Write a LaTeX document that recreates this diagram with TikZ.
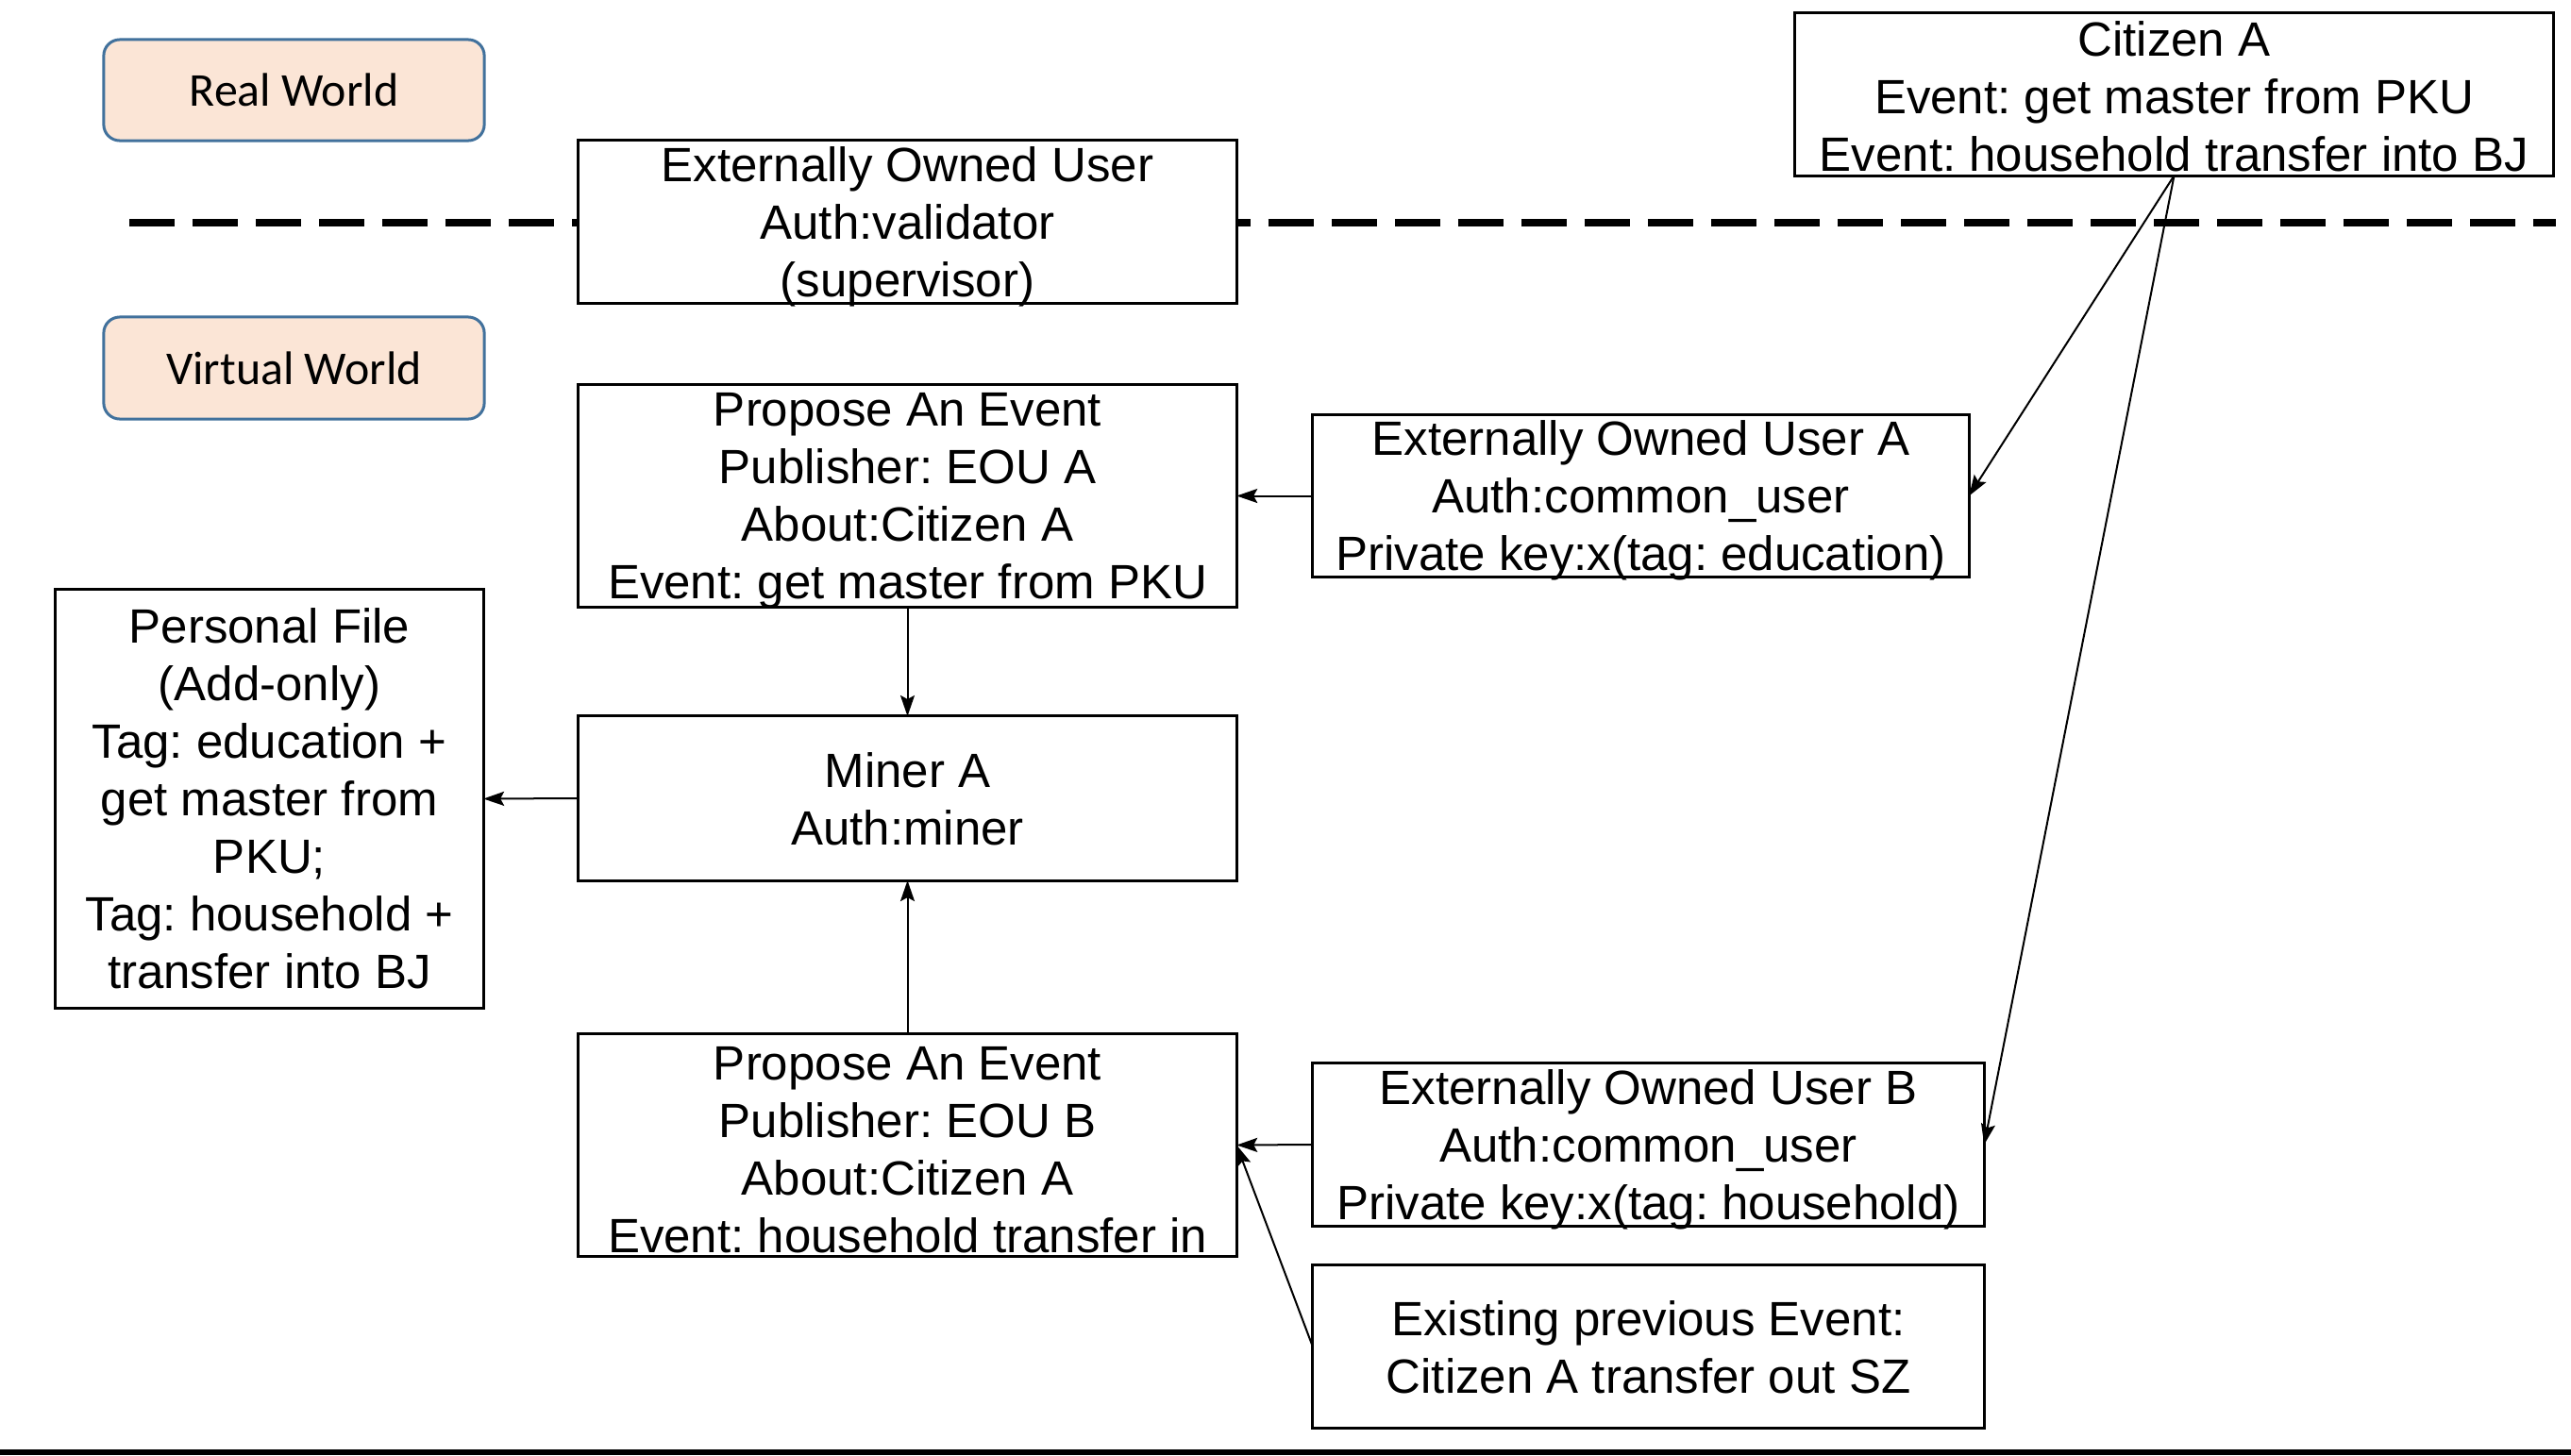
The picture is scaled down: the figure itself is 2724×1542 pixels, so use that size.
\documentclass[tikz,border=0pt]{standalone}
\usepackage{fontspec}
\setmainfont{Liberation Sans}
\newfontfamily\calibri{Carlito}
\usetikzlibrary{arrows.meta}
\definecolor{peach}{HTML}{FBE5D6}
\definecolor{tagborder}{HTML}{41719C}
\frenchspacing
\tikzset{
  box/.style={draw=black, line width=0.03cm, fill=white, inner sep=0pt, outer sep=0pt},
  boxtext/.style={align=center, inner sep=0pt, font=\fontsize{14.5pt}{17.37pt}\selectfont},
  lower/.style={yshift=-0.05cm},
  worldtag/.style={draw=tagborder, fill=peach, line width=0.03cm, rounded corners=0.17cm, inner sep=0pt,
    minimum width=4.03cm, font=\calibri\fontsize{14.2pt}{16pt}\selectfont},
  conn/.style={line width=0.02cm, -{Stealth[length=0.22cm, width=0.15cm, inset=0.04cm]}},
  sep/.style={line width=0.08cm, dash pattern=on 0.48cm off 0.19cm}
}
\begin{document}
\begin{tikzpicture}[x=0.01cm, y=-0.01cm]
\useasboundingbox (0,0) rectangle (2724,1542);
\fill[white] (0,0) rectangle (2724,1542);

% separator
\coordinate (sepL) at (137,236);
\coordinate (sepR) at (2708,236);
\draw[sep] (sepL) -- (sepR);

% bottom rule
\fill[black] (0,1536) rectangle (2724,1542);

% world tags
\node[worldtag, minimum height=1.07cm] (real) at (311.5,95.5) {Real World};
\node[worldtag, minimum height=1.08cm] (virt) at (311.5,390) {Virtual World};

% boxes
\node[box, minimum width=6.97cm, minimum height=1.72cm] (eouv) at (961.5,235) {};
\node[boxtext, lower] (eouvT) at (eouv.center) {Externally Owned User\\Auth:validator\\(supervisor)};

\node[box, minimum width=8.03cm, minimum height=1.72cm] (cit) at (2303.5,100) {};
\node[boxtext, yshift=-0.02cm] (citT) at (cit.center) {Citizen A\\Event: get master from PKU\\Event: household transfer into BJ};

\node[box, minimum width=6.97cm, minimum height=2.35cm] (propA) at (961.5,525.5) {};
\node[boxtext, lower] (propAT) at (propA.center) {Propose An Event\\Publisher: EOU A\\About:Citizen A\\Event: get master from PKU};

\node[box, minimum width=6.95cm, minimum height=1.71cm] (eouA) at (1738.5,525.5) {};
\node[boxtext, lower] (eouAT) at (eouA.center) {Externally Owned User A\\Auth:common\_user\\Private key:x(tag: education)};

\node[box, minimum width=4.53cm, minimum height=4.43cm] (pfile) at (285.5,846.5) {};
\node[boxtext] (pfileT) at (pfile.center) {Personal File\\(Add-only)\\Tag: education +\\get master from\\PKU;\\Tag: household +\\transfer into BJ};

\node[box, minimum width=6.97cm, minimum height=1.74cm] (miner) at (961.5,846) {};
\node[boxtext, yshift=-0.01cm] (minerT) at (miner.center) {Miner A\\Auth:miner};

\node[box, minimum width=6.97cm, minimum height=2.35cm] (propB) at (961.5,1213.5) {};
\node[boxtext, lower] (propBT) at (propB.center) {Propose An Event\\Publisher: EOU B\\About:Citizen A\\Event: household transfer in};

\node[box, minimum width=7.11cm, minimum height=1.72cm] (eouB) at (1746.5,1213) {};
\node[boxtext, lower] (eouBT) at (eouB.center) {Externally Owned User B\\Auth:common\_user\\Private key:x(tag: household)};

\node[box, minimum width=7.11cm, minimum height=1.72cm] (exist) at (1746.5,1427) {};
\node[boxtext, yshift=-0.01cm] (existT) at (exist.center) {Existing previous Event:\\Citizen A transfer out SZ};

% connectors
\draw[conn] (eouA.west) -- (propA.east);
\draw[conn] (propA.south) -- (miner.north);
\draw[conn] (miner.west) -- (pfile.east);
\draw[conn] (propB.north) -- (miner.south);
\draw[conn] (eouB.west) -- (propB.east);
\draw[conn] (exist.west) -- (propB.east);
\draw[conn] (cit.south) -- (eouA.east);
\draw[conn] (cit.south) -- (eouB.east);
\end{tikzpicture}
\end{document}
